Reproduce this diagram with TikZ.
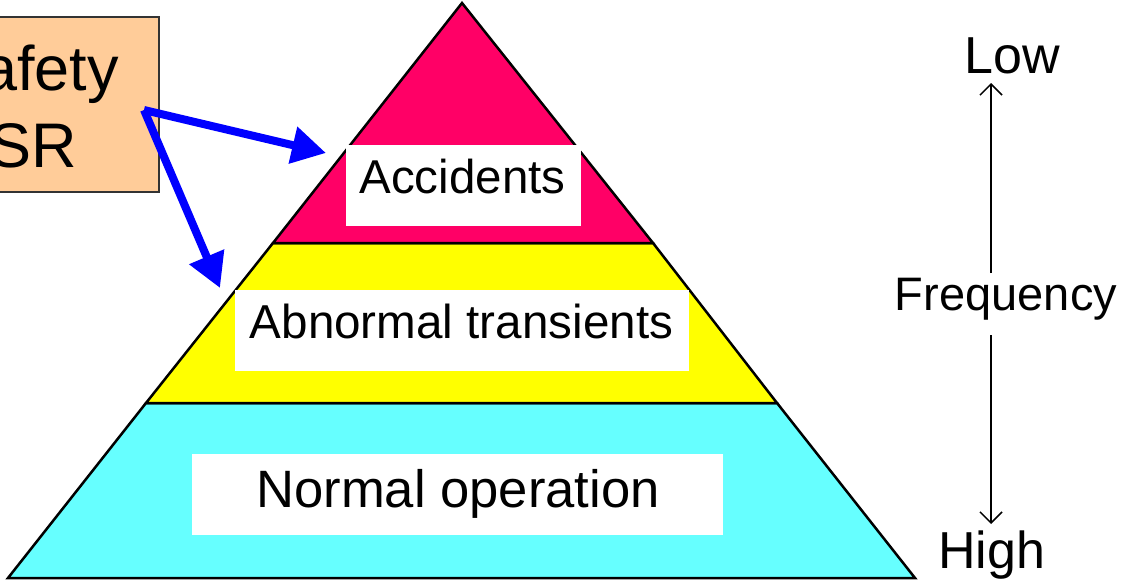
\documentclass[tikz,border=0pt]{standalone}
\usepackage{fontspec}
\newfontfamily\af{Liberation Sans}
\usetikzlibrary{arrows.meta}
\definecolor{pinkc}{HTML}{FF0066}
\definecolor{yellowc}{HTML}{FFFF00}
\definecolor{cyanc}{HTML}{66FFFF}
\definecolor{peachc}{HTML}{FFCC99}
\definecolor{bluec}{HTML}{0000FF}
\definecolor{boxedge}{HTML}{333333}
\tikzset{
  layer/.style={draw=black,line width=2.5pt,line join=miter},
  whitebox/.style={fill=white,draw=none,inner sep=0pt},
  lbl/.style={inner sep=0pt,anchor=base,font=\af\fontsize{#1}{#1}\selectfont},
  bigarrow/.style={draw=bluec,line width=8pt,-{Triangle[length=34pt,width=36pt]}},
  freqarrow/.style={draw=black,line width=1.5pt,-{Straight Barb[length=11pt,width=22pt,line width=1.5pt]}}
}
\begin{document}
\begin{tikzpicture}[x=1pt,y=-1pt]
\clip (0,0) rectangle (1124,581);
\fill[white] (0,0) rectangle (1124,581);
% pyramid layers
\path[layer,fill=cyanc] (146,403) -- (777,403) -- (915,578) -- (8,578) -- cycle;
\path[layer,fill=yellowc] (273,243) -- (653,243) -- (777,403) -- (146,403) -- cycle;
\path[layer,fill=pinkc] (462,3) -- (653,243) -- (273,243) -- cycle;
% white label boxes
\node[whitebox,minimum width=235pt,minimum height=81pt] (accbox) at (463.5,185.5) {};
\node[whitebox,minimum width=454pt,minimum height=81pt] (abnbox) at (462,330.5) {};
\node[whitebox,minimum width=531pt,minimum height=81pt] (norbox) at (457.5,494.5) {};
\node[lbl=47.5] (acc) at (462.5,193) {Accidents};
\node[lbl=47.6] (abn) at (461.5,338) {Abnormal transients};
\node[lbl=52.6] (nor) at (458,507) {Normal operation};
% safety box
\node[draw=boxedge,line width=1.5pt,fill=peachc,minimum width=164pt,minimum height=175pt,inner sep=0pt] (sb) at (77,104.5) {};
\node[inner sep=0pt,anchor=base east,font=\af\fontsize{63}{63}\selectfont] (sf) at (119,90) {afety};
\node[inner sep=0pt,anchor=base east,font=\af\fontsize{63}{63}\selectfont] (sr) at (77,167) {SR};
% blue arrows
\coordinate (src) at (144,110);
\coordinate (t1) at (326,153);
\coordinate (t2) at (220,288);
\draw[bigarrow] (src) -- (t1);
\draw[bigarrow] (src) -- (t2);
% frequency scale
\node[lbl=52] (low) at (1012.5,73) {Low};
\node[lbl=52] (high) at (991.5,568) {High};
\node[lbl=47] (freq) at (1006,310) {Frequency};
\coordinate (fu) at (991,273);
\coordinate (fl) at (991,335);
\coordinate (lowtip) at (991,83);
\coordinate (hightip) at (991,524);
\draw[freqarrow] (fu) -- (lowtip);
\draw[freqarrow] (fl) -- (hightip);
\end{tikzpicture}
\end{document}
